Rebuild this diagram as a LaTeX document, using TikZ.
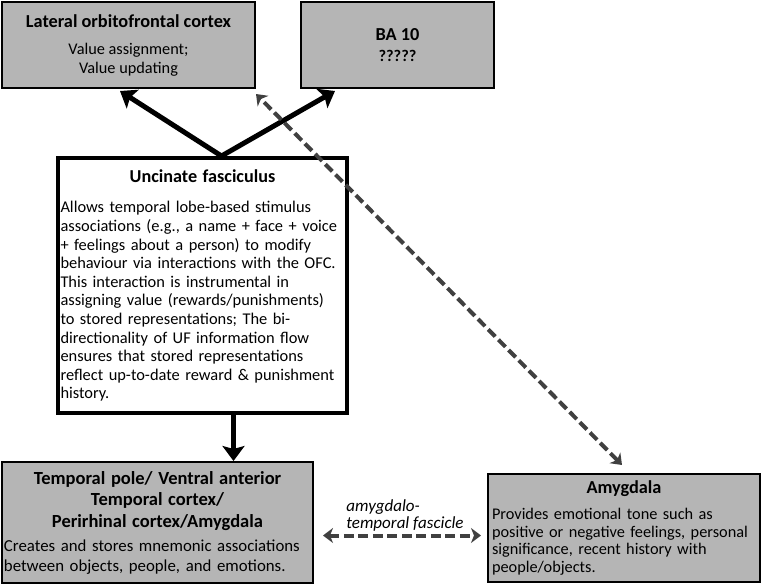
\documentclass[tikz,border=0pt]{standalone}
\usepackage{fontspec}
\setmainfont{Carlito}
\usetikzlibrary{arrows.meta}
\definecolor{boxgrey}{RGB}{181,181,181}
\definecolor{dashgrey}{RGB}{64,64,64}
\begin{document}
\begin{tikzpicture}[x=1pt,y=-1pt,
        greybox/.style={draw=black,line width=2pt,fill=boxgrey,inner sep=2pt,font=\fontsize{16.3}{19}\selectfont},
        ufbox/.style={draw=black,line width=4pt,fill=white,inner sep=2.5pt,font=\fontsize{16.4}{18.6}\selectfont},
        bigarrow/.style={-{Stealth[length=15pt,width=22pt,inset=3pt]},line width=5pt},
        dasharrow/.style={{Stealth[length=10pt,width=15pt,inset=3pt]}-{Stealth[length=10pt,width=15pt,inset=3pt]},
            line width=4pt,draw=dashgrey,dash pattern=on 10pt off 4.5pt}]
        \useasboundingbox (0,0) rectangle (764,584);
        \node (lofc) at (128.5,45) [greybox, minimum width=253pt, minimum height=86pt, align=center]
            {{\bfseries\fontsize{18.3}{20}\selectfont Lateral orbitofrontal cortex}\\[8pt] Value assignment;\\ Value updating};
        \node (ba10) at (397.5,45) [greybox, minimum width=193pt, minimum height=86pt, align=center]
            {{\bfseries\fontsize{18.3}{20}\selectfont BA 10}\\[2pt] {\bfseries ?????}};
        \node (uf) at (202.5,285.5) [ufbox, minimum width=289pt, minimum height=255pt, text width=284pt, align=left]
            {{\centering\bfseries\fontsize{18.2}{19}\selectfont Uncinate fasciculus\par}\vspace{12pt}%
            Allows temporal lobe-based stimulus\\ associations (e.g., a name + face + voice\\ + feelings about a person) to modify\\
            behaviour via interactions with the OFC.\\ This interaction is instrumental in\\ assigning value (rewards/punishments)\\
            to stored representations; The bi-\\ directionality of UF information flow\\ ensures that stored representations\\
            reflect up-to-date reward \& punishment\\ history.};
        \node (temporal) at (157.5,522.5) [greybox, minimum width=311pt, minimum height=121pt, text width=307pt, align=left,
            font=\fontsize{16.8}{20}\selectfont]
            {{\centering\bfseries\fontsize{18.5}{21.5}\selectfont Temporal pole/ Ventral anterior\\ Temporal cortex/\\ Perirhinal cortex/Amygdala\par}\vspace{4pt}%
            Creates and stores mnemonic associations\\ between objects, people, and emotions.};
        \node (amyg) at (624,528) [greybox, minimum width=272pt, minimum height=108pt, text width=264pt, align=left,
            font=\fontsize{16.3}{17.7}\selectfont]
            {{\centering\bfseries\fontsize{18.3}{19}\selectfont Amygdala\par}\vspace{8pt}%
            Provides emotional tone such as\\ positive or negative feelings, personal\\ significance, recent history with\\ people/objects.};
        \node (atf) at (405,515) [align=left, font=\itshape\fontsize{17}{17}\selectfont] {amygdalo-\\ temporal fascicle};
        \coordinate (ufout) at ([xshift=31pt]uf.south);
        \coordinate (fasc) at ([yshift=-13pt]temporal.east);
        \draw[bigarrow] ([xshift=19pt]uf.north) -- ([shift={(-8.5,2)}]lofc.south);
        \draw[bigarrow] ([xshift=19pt]uf.north) -- ([shift={(-62.5,2)}]ba10.south);
        \draw[bigarrow] (ufout) -- (ufout |- temporal.north);
        \draw[dasharrow] ([shift={(-2,-8)}]amyg.north) -- ([yshift=-5pt]lofc.south east);
        \draw[dasharrow, shorten <=9pt, shorten >=6pt] (fasc) -- (fasc -| amyg.west);
    \end{tikzpicture}
\end{document}
